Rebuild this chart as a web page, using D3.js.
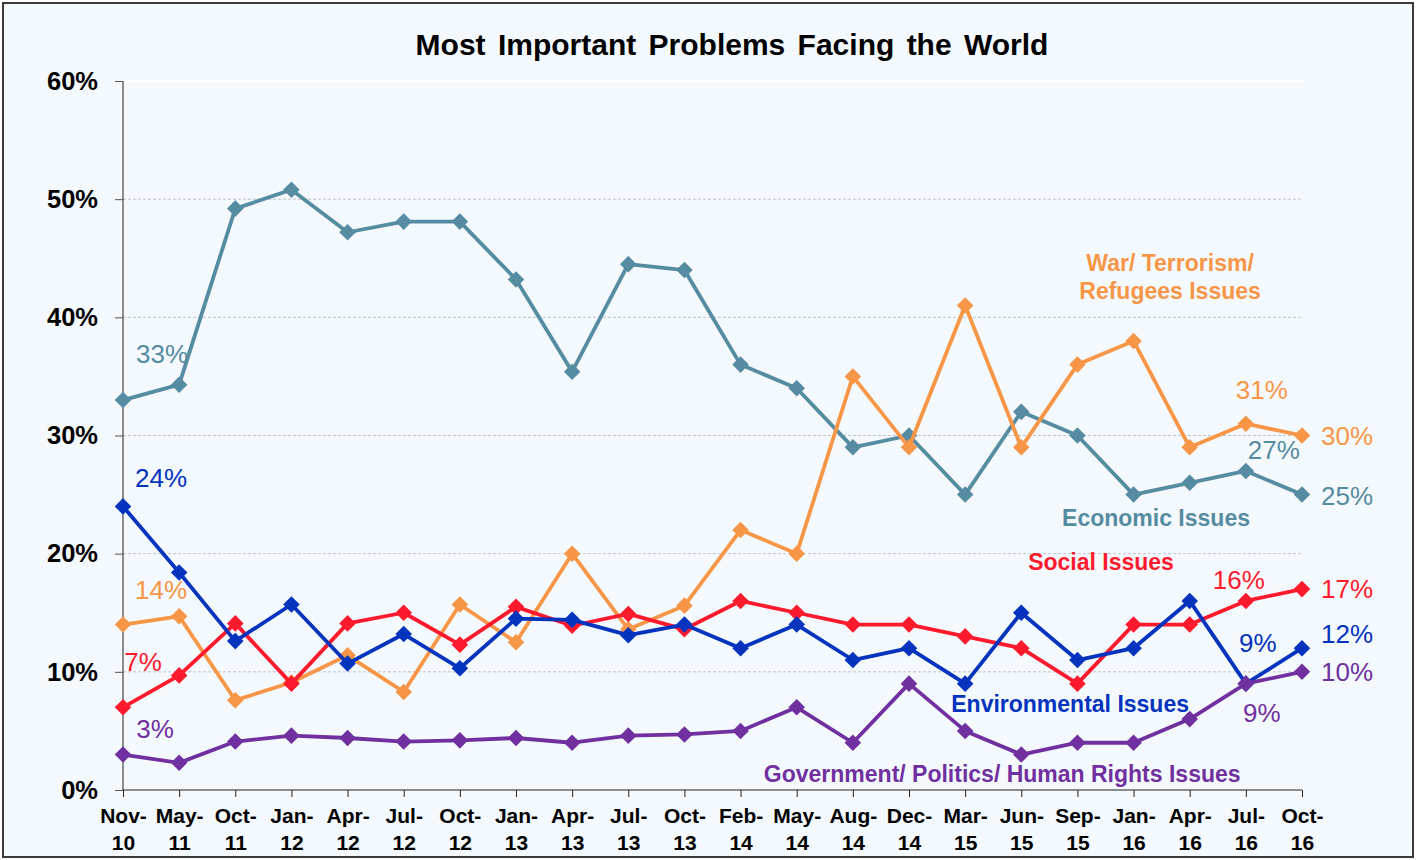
<!DOCTYPE html>
<html>
<head>
<meta charset="utf-8">
<script src="https://cdn.jsdelivr.net/npm/d3@7/dist/d3.min.js"></script>
<style>
  html, body { margin: 0; padding: 0; background: #ffffff; }
  svg { display: block; font-family: Arial, "Liberation Sans", sans-serif; }
</style>
</head>
<body>
<svg id="chart" width="1416" height="860"></svg>
<script>
// categories (survey waves)
var months = ['Nov-', 'May-', 'Oct-', 'Jan-', 'Apr-', 'Jul-', 'Oct-', 'Jan-', 'Apr-', 'Jul-', 'Oct-',
  'Feb-', 'May-', 'Aug-', 'Dec-', 'Mar-', 'Jun-', 'Sep-', 'Jan-', 'Apr-', 'Jul-', 'Oct-'];
var years = ['10', '11', '11', '12', '12', '12', '12', '13', '13', '13', '13',
  '14', '14', '14', '14', '15', '15', '15', '16', '16', '16', '16'];

// series values, percent
var economic = [33, 34.3, 49.2, 50.8, 47.2, 48.1, 48.1, 43.2, 35.4, 44.5, 44.0,
  36, 34, 29, 30, 25, 32, 30, 25, 26, 27, 25];
var war = [14, 14.7, 7.6, 9.1, 11.4, 8.3, 15.7, 12.5, 20, 13.6, 15.6,
  22, 20, 35, 29, 41, 29, 36, 38, 29, 31, 30];
var social = [7, 9.7, 14.1, 9, 14.1, 15, 12.3, 15.5, 13.9, 14.9, 13.6,
  16, 15, 14, 14, 13, 12, 9, 14, 14, 16, 17];
var environmental = [24, 18.4, 12.6, 15.7, 10.7, 13.2, 10.3, 14.5, 14.4, 13.1, 14.0,
  12, 14, 11, 12, 9, 15, 11, 12, 16, 9, 12];
var government = [3, 2.3, 4.1, 4.6, 4.4, 4.1, 4.2, 4.4, 4.0, 4.6, 4.7,
  5, 7, 4, 9, 5, 3, 4, 4, 6, 9, 10];

var yTicks = [0, 10, 20, 30, 40, 50, 60];

var series = [
  { key: 'economic', values: economic, color: '#568ca1' },
  { key: 'war', values: war, color: '#f79646' },
  { key: 'social', values: social, color: '#fe1a2d' },
  { key: 'environmental', values: environmental, color: '#0433be' },
  { key: 'government', values: government, color: '#7030a0' }
];
var colorOf = {};
series.forEach(function (s) { colorOf[s.key] = s.color; });

// value call-outs: which point, and offset of the text from it
var callouts = [
  { key: 'economic', i: 0, dx: 39, dy: -46 },
  { key: 'environmental', i: 0, dx: 38, dy: -29 },
  { key: 'war', i: 0, dx: 38, dy: -35 },
  { key: 'social', i: 0, dx: 20, dy: -46 },
  { key: 'government', i: 0, dx: 32, dy: -26 },
  { key: 'war', i: 20, dx: 16, dy: -34 },
  { key: 'economic', i: 20, dx: 28, dy: -21 },
  { key: 'social', i: 20, dx: -7, dy: -21 },
  { key: 'environmental', i: 20, dx: 12, dy: -41 },
  { key: 'government', i: 20, dx: 16, dy: 29 },
  { key: 'war', i: 21, dx: 45, dy: 0 },
  { key: 'economic', i: 21, dx: 45, dy: 1 },
  { key: 'social', i: 21, dx: 45, dy: 0 },
  { key: 'environmental', i: 21, dx: 45, dy: -15 },
  { key: 'government', i: 21, dx: 45, dy: 0 }
];

// series names, placed in data space (fractional wave index, percent)
var seriesNames = [
  { key: 'war', lines: ['War/ Terrorism/', 'Refugees Issues'], at: 18.65, v: 44.6 },
  { key: 'economic', lines: ['Economic Issues'], at: 18.4, v: 23.0 },
  { key: 'social', lines: ['Social Issues'], at: 17.42, v: 19.3 },
  { key: 'environmental', lines: ['Environmental Issues'], at: 16.87, v: 7.3 },
  { key: 'government', lines: ['Government/ Politics/ Human Rights Issues'], at: 15.66, v: 1.35 }
];

var W = 1416, H = 860;
var margin = { top: 81, right: 114, bottom: 70, left: 123 };
var innerW = W - margin.left - margin.right;
var innerH = H - margin.top - margin.bottom;

var svg = d3.select('#chart');

// outer frame
svg.append('rect')
  .attr('x', 3).attr('y', 3).attr('width', W - 6).attr('height', H - 6)
  .attr('fill', '#f4f9fe').attr('stroke', '#3a3a3a').attr('stroke-width', 2);

svg.append('text')
  .attr('x', 732).attr('y', 55)
  .attr('text-anchor', 'middle')
  .attr('font-size', 30).attr('font-weight', 'bold').attr('fill', '#000')
  .attr('word-spacing', 4)
  .text('Most Important Problems Facing the World');

var g = svg.append('g').attr('transform', 'translate(' + margin.left + ',' + margin.top + ')');

var x = d3.scaleLinear().domain([0, months.length - 1]).range([0, innerW]);
var y = d3.scaleLinear().domain([0, 60]).range([innerH, 0]);

// gridlines
g.append('g').selectAll('line')
  .data(yTicks.filter(function (d) { return d > 0 && d < 60; }))
  .enter().append('line')
  .attr('x1', 0).attr('x2', innerW)
  .attr('y1', function (d) { return y(d); }).attr('y2', function (d) { return y(d); })
  .attr('stroke', '#bfc3c8').attr('stroke-width', 1).attr('stroke-dasharray', '3,2');
g.append('line')
  .attr('x1', 0).attr('x2', innerW).attr('y1', y(60)).attr('y2', y(60))
  .attr('stroke', '#ffffff').attr('stroke-width', 1.5);

// y axis
var yAxis = g.append('g')
  .call(d3.axisLeft(y).tickValues(yTicks).tickSize(8).tickPadding(17)
    .tickFormat(function (d) { return d + '%'; }));
yAxis.select('.domain').attr('stroke', '#222').attr('d', 'M0,0V' + innerH);
yAxis.selectAll('.tick line').attr('stroke', '#555');
yAxis.selectAll('.tick text')
  .attr('font-size', 25.5).attr('font-weight', 'bold').attr('fill', '#000')
  .attr('font-family', 'Arial, "Liberation Sans", sans-serif');

// x axis
var xAxis = g.append('g')
  .attr('transform', 'translate(0,' + innerH + ')')
  .call(d3.axisBottom(x).tickValues(d3.range(months.length)).tickSize(7).tickFormat(''));
xAxis.select('.domain').attr('stroke', '#222').attr('d', 'M0,0H' + innerW);
xAxis.selectAll('.tick line').attr('stroke', '#222');
xAxis.selectAll('.tick').append('text')
  .attr('text-anchor', 'middle')
  .attr('font-size', 21).attr('font-weight', 'bold').attr('fill', '#000')
  .attr('font-family', 'Arial, "Liberation Sans", sans-serif')
  .each(function (d) {
    var t = d3.select(this);
    t.append('tspan').attr('x', 0).attr('y', 33).text(months[d]);
    t.append('tspan').attr('x', 0).attr('y', 60).text(years[d]);
  });

// lines and diamond markers
var line = d3.line()
  .x(function (d, i) { return x(i); })
  .y(function (d) { return y(d); });
var diamond = d3.symbol().type(d3.symbolDiamond2).size(175);

series.forEach(function (s) {
  var sg = g.append('g').attr('class', 'series-' + s.key);
  sg.append('path')
    .datum(s.values)
    .attr('d', line)
    .attr('fill', 'none')
    .attr('stroke', s.color)
    .attr('stroke-width', 3.8)
    .attr('stroke-linejoin', 'round');
  sg.selectAll('path.marker')
    .data(s.values)
    .enter().append('path')
    .attr('class', 'marker')
    .attr('d', diamond)
    .attr('transform', function (d, i) { return 'translate(' + x(i) + ',' + y(d) + ')'; })
    .attr('fill', s.color);
});

// value call-outs
var valuesOf = {};
series.forEach(function (s) { valuesOf[s.key] = s.values; });
g.append('g').selectAll('text')
  .data(callouts)
  .enter().append('text')
  .attr('x', function (d) { return x(d.i) + d.dx; })
  .attr('y', function (d) { return y(valuesOf[d.key][d.i]) + d.dy; })
  .attr('dy', '0.36em')
  .attr('text-anchor', 'middle')
  .attr('font-size', 26)
  .attr('fill', function (d) { return colorOf[d.key]; })
  .text(function (d) { return Math.round(valuesOf[d.key][d.i]) + '%'; });

// series names
seriesNames.forEach(function (n) {
  var t = g.append('text')
    .attr('text-anchor', 'middle')
    .attr('font-size', 23).attr('font-weight', 'bold')
    .attr('fill', colorOf[n.key]);
  n.lines.forEach(function (l, k) {
    t.append('tspan')
      .attr('x', x(n.at))
      .attr('y', y(n.v))
      .attr('dy', (0.36 + k * 1.22) + 'em')
      .text(l);
  });
});
</script>
</body>
</html>
